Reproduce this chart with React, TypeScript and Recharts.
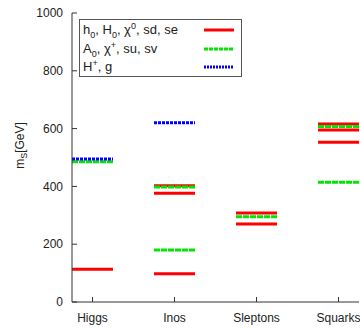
import React from "react";
import {
  ComposedChart,
  Line,
  XAxis,
  YAxis,
  Legend,
  Label,
} from "recharts";

const categories = ["Higgs", "Inos", "Sleptons", "Squarks"];
const yTicks = [0, 200, 400, 600, 800, 1000];

// mass levels per category (GeV)
const redLevels = [[113], [98, 376, 402], [270, 308], [553, 595, 616]];
const greenLevels = [[485], [180, 398], [295], [414, 607]];
const blueLevels = [[495], [620], [], []];

const RED = "#ff0000";
const GREEN = "#00e600";
const BLUE = "#0000ff";
const AXIS = "#333";
const FONT = "'Liberation Sans', Arial, sans-serif";

const HALF = 0.25;

function segments(levels: number[][]) {
  const out: { x: number; y: number }[][] = [];
  levels.forEach((vals, i) => {
    vals.forEach((v) => {
      out.push([
        { x: i + 1 - HALF, y: v },
        { x: i + 1 + HALF, y: v },
      ]);
    });
  });
  return out;
}

const series = [
  { segs: segments(redLevels), color: RED, dash: undefined },
  { segs: segments(greenLevels), color: GREEN, dash: "6 1" },
  { segs: segments(blueLevels), color: BLUE, dash: "3 1" },
];

const sub = { fontSize: 9, position: "relative" as const, top: 4 };
const sup = { fontSize: 9, position: "relative" as const, top: -5 };

function LegendBox() {
  const rows = [
    {
      label: (
        <>
          h<span style={sub}>0</span>, H<span style={sub}>0</span>, χ
          <span style={sup}>0</span>, sd, se
        </>
      ),
      color: RED,
      dash: undefined,
    },
    {
      label: (
        <>
          A<span style={sub}>0</span>, χ<span style={sup}>+</span>, su, sv
        </>
      ),
      color: GREEN,
      dash: "4 1",
    },
    {
      label: (
        <>
          H<span style={sup}>+</span>, g
        </>
      ),
      color: BLUE,
      dash: "2 1",
    },
  ];
  return (
    <div
      style={{
        position: "relative",
        width: 161,
        height: 56,
        border: "1px solid #555",
        background: "#fff",
        fontFamily: FONT,
        fontSize: 13,
        color: "#222",
      }}
    >
      {rows.map((r, i) => (
        <div
          key={i}
          style={{
            position: "absolute",
            left: 3,
            top: 1 + i * 18.5,
            height: 18,
            lineHeight: "18px",
            whiteSpace: "nowrap",
          }}
        >
          {r.label}
        </div>
      ))}
      {rows.map((r, i) => (
        <svg
          key={"s" + i}
          width={30}
          height={4}
          style={{ position: "absolute", left: 124, top: 8 + i * 18.5 }}
        >
          <line
            x1={0}
            x2={30}
            y1={2}
            y2={2}
            stroke={r.color}
            strokeWidth={3}
            strokeDasharray={r.dash}
          />
        </svg>
      ))}
    </div>
  );
}

function YLabel(props: any) {
  const vb = props.viewBox || { x: 0, y: 0, width: 72, height: 290 };
  const cx = 24;
  const cy = vb.y + vb.height / 2 - 12;
  return (
    <text
      x={cx}
      y={cy}
      transform={`rotate(-90, ${cx}, ${cy})`}
      textAnchor="middle"
      fontFamily={FONT}
      fontSize={12}
      fill="#222"
    >
      m
      <tspan fontSize={9} dy={3}>
        S
      </tspan>
      <tspan dy={-3}>[GeV]</tspan>
    </text>
  );
}

export default function App() {
  const tickStyle = { fontFamily: FONT, fontSize: 12, fill: "#222" };
  return (
    <div style={{ position: "absolute", left: 0, top: 0, background: "#fff" }}>
      <ComposedChart
        width={360}
        height={328}
        margin={{ top: 13, right: 1, bottom: 0, left: 0 }}
      >
        <XAxis
          xAxisId={0}
          dataKey="x"
          type="number"
          domain={[0.75, 4.25]}
          ticks={[1, 2, 3, 4]}
          tickFormatter={(v: number) => categories[v - 1]}
          allowDataOverflow
          height={26}
          tickSize={-5}
          tickMargin={16}
          stroke={AXIS}
          tick={tickStyle}
        />
        <XAxis
          xAxisId="top"
          orientation="top"
          type="number"
          domain={[0.75, 4.25]}
          ticks={[1, 2, 3, 4]}
          tickFormatter={() => ""}
          height={0}
          tickSize={-5}
          stroke={AXIS}
        />
        <YAxis
          yAxisId={0}
          type="number"
          domain={[0, 1000]}
          ticks={yTicks}
          width={72}
          tickSize={-5}
          tickMargin={14}
          stroke={AXIS}
          tick={tickStyle}
        >
          <Label content={<YLabel />} />
        </YAxis>
        <YAxis
          yAxisId="right"
          orientation="right"
          type="number"
          domain={[0, 1000]}
          ticks={yTicks}
          tickFormatter={() => ""}
          width={0}
          tickSize={-5}
          stroke={AXIS}
        />
        <Legend
          layout="horizontal"
          verticalAlign="middle"
          align="center"
          content={() => <LegendBox />}
          wrapperStyle={{ left: 79, top: 19, width: 163 }}
        />
        {series.map((s, si) =>
          s.segs.map((seg, i) => (
            <Line
              key={si + "-" + i}
              xAxisId={0}
              yAxisId={0}
              data={seg}
              dataKey="y"
              stroke={s.color}
              strokeWidth={3}
              strokeDasharray={s.dash}
              dot={false}
              activeDot={false}
              legendType="none"
              isAnimationActive={false}
            />
          ))
        )}
      </ComposedChart>
    </div>
  );
}
